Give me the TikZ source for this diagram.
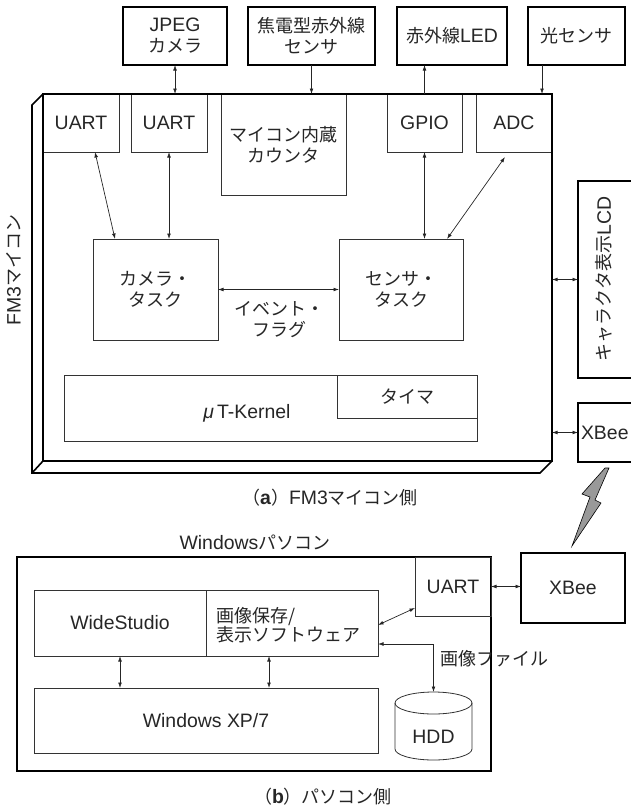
\documentclass[tikz,border=0pt]{standalone}
\usepackage{fontspec}
\setmainfont{Noto Sans CJK JP}
\newfontfamily\latf{Liberation Sans}[Scale=1.08]
\newcommand\la[1]{{\latf #1}}
\usetikzlibrary{arrows.meta,calc}
\tikzset{
  tbox/.style={draw=black, line width=1.6pt, minimum width=#1, align=center},
  ibox/.style={draw=black!80, line width=0.8pt, minimum width=#1, align=center},
  dar/.style={{Latex[length=5.5pt,width=3.8pt]}-{Latex[length=5.5pt,width=3.8pt]}, line width=0.7pt, draw=black!85},
  sar/.style={-{Latex[length=5.5pt,width=3.8pt]}, line width=0.7pt, draw=black!85},
  lbl/.style={align=center}
}
\begin{document}
\begin{tikzpicture}[x=1pt,y=-1pt,
  every node/.style={font=\fontsize{18}{21}\selectfont, text=black!85, inner sep=0pt, outer sep=0pt}]
\useasboundingbox (0,0) rectangle (631,808);

% ---------- top devices ----------
\node[tbox=104, minimum height=58] (jpeg) at (175,36) {\la{JPEG}\\カメラ};
\node[tbox=127, minimum height=58] (pyro) at (311.5,36) {焦電型赤外線\\センサ};
\node[tbox=110, minimum height=58] (irled) at (452,36) {赤外線\la{LED}};
\node[tbox=97, minimum height=58] (light) at (576.5,36) {光センサ};

% ---------- inner boxes of FM3 ----------
\node[ibox=76, minimum height=58] (uart1) at (81,123) {\la{UART}};
\node[ibox=76, minimum height=58] (uart2) at (169,123) {\la{UART}};
\node[ibox=125, minimum height=101] (counter) at (283.5,144.5) {マイコン内蔵\\カウンタ};
\node[ibox=75, minimum height=58] (gpio) at (424.5,123) {\la{GPIO}};
\node[ibox=76, minimum height=58] (adc) at (514,123) {\la{ADC}};
\node[ibox=125, minimum height=101] (ctask) at (155.5,289.5) {カメラ・\\タスク};
\node[ibox=124, minimum height=101] (stask) at (401,289.5) {センサ・\\タスク};
\node[lbl] (event) at (279,320) {イベント・\\フラグ};
\node[ibox=413, minimum height=66] (kernel) at (270.5,408) {};
\node[ibox=140, minimum height=43] (timer) at (407,396.5) {タイマ};
\node (ktext) at (247,413) {{\latf\itshape μ}\,\la{T-Kernel}};

% ---------- FM3 board (3D) ----------
\node[tbox=509, minimum height=367] (fm3) at (297.5,277.5) {};
\draw[line width=1.6pt, line join=miter] (fm3.north west) -- ++(-11,11)
  -- ($(fm3.south west)+(-11,12)$) -- ($(fm3.south east)+(-12,12)$) -- (fm3.south east);
\draw[line width=1.6pt] (fm3.south west) -- ++(-11,12);
\node[rotate=90] (fm3lbl) at (14,270) {\la{FM3}マイコン};

% ---------- right side devices ----------
\node[tbox=67, minimum height=197] (lcd) at (611.5,279.5) {};
\node[rotate=90] (lcdtext) at (604,279) {キャラクタ表示\la{LCD}};
\node[tbox=67, minimum height=59] (xbee1) at (611.5,432.5) {};
\node[anchor=west] (xbee1text) at (581,433) {\la{XBee}};

% ---------- FM3 connectors ----------
\draw[dar] (jpeg.south) -- (jpeg.south |- uart2.north);
\draw[sar] (pyro.south) -- (pyro.south |- counter.north);
\draw[sar] (gpio.north) -- (gpio.north |- irled.south);
\draw[sar] ($(light.south)+(-34.5,0)$) -- ($(adc.north)+(28,0)$);
\draw[dar] ($(uart1.south)+(14,0)$) -- ($(ctask.north)+(-40.5,0)$);
\draw[dar] (uart2.south) -- (uart2.south |- ctask.north);
\draw[dar] (gpio.south) -- (gpio.south |- stask.north);
\draw[dar] ($(adc.south)+(-9,5)$) -- ($(stask.north)+(46,0)$);
\draw[dar] (ctask.east) -- (stask.west);
\draw[dar] (lcd.west -| fm3.east) -- (lcd.west);
\draw[dar] (xbee1.west -| fm3.east) -- (xbee1.west);

% ---------- lightning ----------
\draw[fill=black!40, line width=0.6pt, line join=miter]
  (605,468) -- (582,494) -- (590,497) -- (572,546) -- (601,503) -- (595,500) -- (609,468) -- cycle;

\node (capa) at (330,498) {（\textbf{\la{a}}）\la{FM3}マイコン側};

% ---------- PC side ----------
\node (pclbl) at (255,542) {\la{Windows}パソコン};
\node[tbox=474, minimum height=214] (pc) at (254,664) {};
\node[ibox=76, minimum height=59] (uart3) at (453,586.5) {\la{UART}};
\node[ibox=172, minimum height=66] (ws) at (120,623) {\la{WideStudio}};
\node[ibox=172, minimum height=66] (sw) at (292,623) {};
\node[anchor=west, align=left, font=\fontsize{18}{18.5}\selectfont] (swtext) at (216,625) {画像保存/\\表示ソフトウェア};
\node[ibox=344, minimum height=65] (xp) at (206,720.5) {\la{Windows XP/7}};
\node[tbox=104, minimum height=70] (xbee2) at (573,588) {\la{XBee}};
\node[minimum width=77, minimum height=68] (hdd) at (433.5,726) {};
\draw[line width=0.8pt, draw=black!80] (395,703) -- (395,749)
  arc[start angle=180, end angle=360, x radius=38.5pt, y radius=11pt] -- (472,703);
\draw[line width=0.8pt, draw=black!80] (433.5,703) ellipse [x radius=38.5pt, y radius=11pt];
\node (hddtext) at (433.5,737) {\la{HDD}};
\node[anchor=west] (filelbl) at (440,659) {画像ファイル};

\coordinate (swx) at ($(sw.south)+(-23,0)$);
\draw[dar] (uart3.east) -- (uart3.east -| xbee2.west);
\draw[dar] ($(sw.east)+(0,2)$) -- ($(uart3.south west)+(0,-8)$);
\draw[dar] ($(sw.east)+(0,21)$) -| (hdd.north);
\draw[dar] (ws.south) -- (ws.south |- xp.north);
\draw[dar] (swx) -- (swx |- xp.north);

\node (capb) at (323,797) {（\textbf{\la{b}}）パソコン側};
\end{tikzpicture}
\end{document}
